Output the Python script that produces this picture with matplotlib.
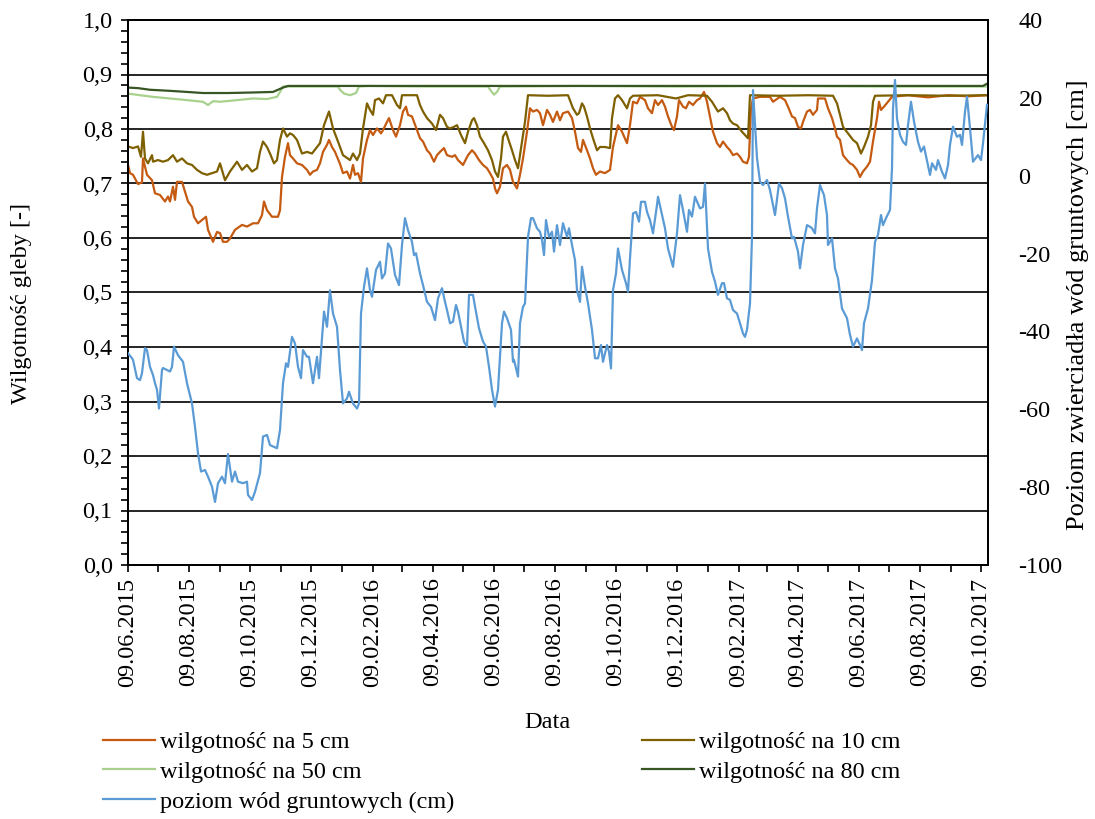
import numpy as np
import matplotlib
matplotlib.use("Agg")
import matplotlib.pyplot as plt
import matplotlib.dates as mdates
from matplotlib.ticker import MultipleLocator, FuncFormatter

# ---- data (days since 09.06.2015) ----
start_date = np.datetime64("2015-06-09")

m5_days = [0, 2, 5, 10, 14, 15, 19, 24, 27, 32, 37, 40, 42, 45, 47, 49, 54, 57, 60, 64, 66, 70, 74, 78, 80,
           85, 89, 92, 95, 99, 102, 107, 114, 119, 125, 130, 134, 136, 139, 144, 150, 152, 154, 157, 160,
           162, 165, 169, 174, 179, 182, 185, 189, 192, 195, 199, 201, 204, 207, 212, 215, 219, 222, 225,
           227, 230, 233, 235, 239, 242, 245, 249, 253, 255, 259, 261, 265, 268, 272, 275, 278, 280, 284,
           286, 289, 292, 295, 299, 302, 306, 309, 312, 316, 319, 324, 327, 330, 335, 340, 344, 347, 351,
           355, 359, 362, 365, 367, 369, 372, 375, 379, 382, 385, 389, 392, 395, 399, 402, 405, 409, 412,
           415, 419, 422, 425, 429, 432, 435, 440, 444, 447, 450, 453, 455, 459, 462, 465, 468, 472, 477,
           482, 485, 490, 494, 499, 502, 505, 509, 512, 517, 520, 524, 527, 530, 534, 537, 540, 544, 546,
           549, 551, 555, 558, 561, 565, 569, 572, 576, 579, 582, 585, 589, 592, 595, 599, 602, 605, 609,
           612, 615, 619, 621, 623, 625, 632, 642, 645, 652, 657, 660, 664, 667, 670, 673, 675, 679, 682,
           685, 689, 690, 697, 700, 704, 707, 709, 712, 715, 719, 722, 725, 729, 732, 735, 739, 742, 745,
           749, 751, 753, 756, 760, 764, 780, 800, 820, 840, 859]
m5_vals = [0.734, 0.719, 0.716, 0.699, 0.702, 0.746, 0.716, 0.706, 0.682, 0.679, 0.667, 0.676, 0.667, 0.694,
           0.670, 0.703, 0.703, 0.685, 0.667, 0.657, 0.639, 0.627, 0.633, 0.639, 0.615, 0.593, 0.611, 0.609,
           0.593, 0.593, 0.599, 0.615, 0.624, 0.621, 0.627, 0.627, 0.642, 0.667, 0.651, 0.639, 0.639, 0.651,
           0.712, 0.749, 0.774, 0.752, 0.746, 0.737, 0.734, 0.725, 0.716, 0.722, 0.725, 0.737, 0.758, 0.771,
           0.780, 0.767, 0.758, 0.736, 0.719, 0.722, 0.709, 0.734, 0.716, 0.719, 0.703, 0.746, 0.780, 0.798,
           0.789, 0.801, 0.792, 0.798, 0.813, 0.820, 0.798, 0.786, 0.807, 0.832, 0.841, 0.826, 0.823, 0.813,
           0.798, 0.783, 0.777, 0.761, 0.755, 0.740, 0.752, 0.758, 0.765, 0.752, 0.749, 0.752, 0.743, 0.734,
           0.752, 0.761, 0.755, 0.743, 0.734, 0.728, 0.719, 0.709, 0.691, 0.682, 0.694, 0.728, 0.734, 0.725,
           0.703, 0.691, 0.716, 0.746, 0.795, 0.838, 0.832, 0.835, 0.829, 0.807, 0.835, 0.826, 0.813, 0.832,
           0.816, 0.829, 0.832, 0.820, 0.795, 0.765, 0.758, 0.780, 0.761, 0.746, 0.728, 0.716, 0.722, 0.719,
           0.725, 0.767, 0.807, 0.795, 0.774, 0.807, 0.850, 0.847, 0.859, 0.853, 0.838, 0.829, 0.853, 0.844,
           0.853, 0.841, 0.823, 0.804, 0.798, 0.823, 0.853, 0.841, 0.838, 0.850, 0.844, 0.853, 0.856, 0.868,
           0.850, 0.823, 0.795, 0.774, 0.767, 0.777, 0.767, 0.761, 0.752, 0.755, 0.749, 0.740, 0.737, 0.749,
           0.838, 0.856, 0.859, 0.859, 0.850, 0.859, 0.853, 0.841, 0.823, 0.820, 0.804, 0.801, 0.813, 0.832,
           0.835, 0.826, 0.835, 0.856, 0.856, 0.838, 0.820, 0.801, 0.786, 0.780, 0.752, 0.743, 0.737, 0.734,
           0.725, 0.712, 0.722, 0.731, 0.740, 0.777, 0.820, 0.850, 0.835, 0.841, 0.850, 0.859, 0.862, 0.858,
           0.862, 0.860, 0.862]

m10_days = [0, 5, 10, 13, 15, 17, 20, 24, 25, 30, 35, 40, 45, 49, 54, 59, 64, 69, 74, 79, 84, 89, 92, 97,
            102, 109, 114, 119, 124, 129, 132, 135, 139, 142, 146, 149, 152, 155, 159, 162, 165, 169, 174,
            179, 184, 189, 192, 196, 201, 205, 210, 215, 222, 225, 229, 232, 235, 239, 242, 245, 247, 251,
            255, 258, 264, 269, 272, 274, 289, 292, 295, 299, 304, 308, 312, 315, 319, 322, 326, 329, 333,
            337, 340, 344, 346, 349, 352, 356, 360, 364, 367, 370, 373, 375, 378, 380, 384, 387, 390, 394,
            397, 400, 420, 440, 445, 449, 451, 454, 456, 459, 462, 465, 469, 472, 477, 482, 484, 487, 490,
            494, 499, 502, 505, 530, 548, 560, 579, 584, 587, 590, 595, 599, 602, 605, 609, 614, 617, 620,
            622, 650, 680, 705, 709, 712, 715, 720, 725, 729, 733, 736, 740, 743, 745, 747, 780, 820, 859]
m10_vals = [0.768, 0.765, 0.768, 0.749, 0.795, 0.746, 0.737, 0.752, 0.740, 0.743, 0.740, 0.743, 0.752, 0.740,
            0.746, 0.737, 0.734, 0.725, 0.719, 0.716, 0.719, 0.722, 0.737, 0.706, 0.722, 0.740, 0.725, 0.734,
            0.722, 0.728, 0.758, 0.777, 0.767, 0.755, 0.737, 0.743, 0.780, 0.801, 0.786, 0.792, 0.789, 0.780,
            0.755, 0.758, 0.755, 0.767, 0.774, 0.807, 0.832, 0.801, 0.777, 0.752, 0.743, 0.755, 0.743, 0.755,
            0.801, 0.847, 0.835, 0.826, 0.853, 0.856, 0.847, 0.862, 0.862, 0.844, 0.838, 0.862, 0.862, 0.844,
            0.832, 0.820, 0.810, 0.798, 0.826, 0.820, 0.804, 0.801, 0.804, 0.807, 0.789, 0.774, 0.795, 0.816,
            0.820, 0.807, 0.786, 0.774, 0.761, 0.743, 0.722, 0.712, 0.746, 0.786, 0.795, 0.783, 0.761, 0.743,
            0.728, 0.777, 0.813, 0.862, 0.861, 0.862, 0.838, 0.826, 0.829, 0.847, 0.841, 0.823, 0.801, 0.783,
            0.761, 0.767, 0.767, 0.765, 0.820, 0.856, 0.862, 0.853, 0.838, 0.856, 0.861, 0.862, 0.856, 0.862,
            0.861, 0.850, 0.841, 0.832, 0.838, 0.829, 0.816, 0.810, 0.807, 0.795, 0.789, 0.783, 0.862, 0.861,
            0.862, 0.861, 0.847, 0.826, 0.804, 0.792, 0.780, 0.774, 0.755, 0.767, 0.786, 0.807, 0.850, 0.861,
            0.862, 0.861, 0.862]

m50_days = [0, 12, 25, 42, 59, 75, 80, 85, 92, 109, 125, 139, 149, 152, 155, 172, 210, 212, 216, 222, 228,
            231, 240, 300, 360, 363, 366, 369, 372, 450, 550, 650, 750, 859]
m50_vals = [0.865, 0.862, 0.859, 0.856, 0.853, 0.850, 0.844, 0.851, 0.850, 0.853, 0.856, 0.855, 0.859,
            0.868, 0.878, 0.878, 0.878, 0.872, 0.865, 0.862, 0.866, 0.878, 0.879, 0.878, 0.878, 0.870,
            0.863, 0.868, 0.878, 0.879, 0.878, 0.879, 0.878, 0.878]

m80_days = [0, 10, 22, 42, 59, 75, 100, 125, 145, 150, 155, 160, 200, 300, 400, 500, 600, 700, 800, 855, 859]
m80_vals = [0.876, 0.875, 0.872, 0.870, 0.868, 0.866, 0.866, 0.867, 0.868, 0.872, 0.876, 0.879, 0.879,
            0.879, 0.879, 0.879, 0.879, 0.879, 0.879, 0.879, 0.883]

gw_days = [0, 4, 5, 9, 12, 14, 17, 19, 22, 25, 27, 29, 31, 34, 35, 39, 42, 44, 46, 50, 55, 59, 64, 67, 70,
           73, 77, 80, 84, 87, 90, 94, 97, 100, 104, 107, 110, 115, 119, 120, 124, 127, 132, 135, 139, 142,
           149, 152, 155, 158, 160, 164, 167, 170, 173, 175, 179, 181, 185, 189, 191, 194, 196, 199, 202,
           205, 209, 212, 215, 219, 221, 225, 229, 231, 233, 236, 239, 242, 244, 248, 252, 254, 257, 260,
           263, 267, 271, 274, 277, 280, 284, 286, 288, 292, 295, 299, 303, 307, 310, 314, 317, 319, 322,
           325, 328, 330, 333, 336, 339, 341, 345, 347, 351, 355, 358, 361, 364, 367, 370, 374, 376, 379,
           383, 385, 386, 390, 392, 395, 397, 400, 403, 405, 409, 412, 414, 416, 418, 421, 424, 426, 429,
           432, 435, 439, 441, 444, 447, 449, 452, 454, 457, 460, 464, 467, 470, 473, 475, 479, 481, 483,
           485, 488, 490, 494, 498, 500, 502, 505, 508, 511, 513, 517, 519, 522, 525, 529, 530, 534, 537,
           540, 545, 549, 552, 555, 559, 561, 564, 567, 572, 575, 577, 580, 584, 587, 590, 594, 596, 599,
           602, 605, 609, 612, 615, 617, 619, 622, 624, 625, 629, 632, 635, 639, 642, 647, 651, 654, 657,
           660, 664, 666, 670, 672, 675, 679, 682, 684, 687, 689, 692, 696, 699, 700, 704, 707, 710, 714,
           719, 722, 725, 729, 732, 734, 736, 740, 744, 747, 750, 753, 755, 758, 762, 764, 765, 767, 769,
           772, 775, 778, 780, 783, 786, 790, 793, 796, 800, 802, 804, 808, 810, 814, 817, 820, 822, 825,
           829, 832, 834, 837, 839, 842, 845, 850, 853, 855, 859]
gw_vals = [-45.6, -46.9, -47.3, -52.0, -52.5, -50.7, -44.3, -44.8, -49.1, -51.2, -53.3, -55.0, -59.8, -49.9,
           -49.4, -49.9, -50.3, -49.1, -43.9, -46.1, -47.8, -53.3, -58.5, -64.5, -71.3, -76.0, -75.6, -77.3,
           -79.9, -83.8, -79.0, -77.3, -79.0, -71.5, -78.6, -76.0, -78.6, -79.0, -78.6, -82.0, -83.3, -81.2,
           -76.4, -67.0, -66.6, -69.2, -70.0, -65.3, -53.3, -48.2, -49.1, -41.4, -43.1, -49.1, -52.0, -44.8,
           -46.5, -46.5, -53.3, -46.5, -52.0, -41.8, -34.9, -38.8, -29.4, -35.4, -38.8, -49.9, -58.5, -57.2,
           -55.5, -58.5, -59.8, -58.5, -35.4, -28.5, -23.8, -29.4, -31.1, -24.2, -22.1, -26.4, -25.1, -17.4,
           -18.7, -25.5, -28.1, -17.8, -10.9, -14.0, -17.0, -20.4, -19.9, -25.1, -28.1, -32.4, -33.7, -37.1,
           -31.5, -28.9, -32.4, -34.5, -37.9, -37.5, -33.2, -34.9, -38.8, -42.6, -43.9, -30.6, -30.6, -33.6,
           -39.2, -42.6, -43.9, -49.1, -55.0, -59.3, -55.0, -37.9, -34.9, -36.6, -39.6, -47.8, -47.3, -51.6,
           -37.9, -33.7, -32.8, -15.7, -10.9, -10.9, -13.5, -14.4, -16.5, -20.4, -11.4, -15.7, -14.4, -19.5,
           -12.7, -17.8, -12.2, -15.7, -13.5, -17.8, -21.7, -29.4, -32.4, -23.4, -28.5, -32.8, -39.6, -46.9,
           -46.9, -43.5, -47.8, -43.5, -45.2, -49.5, -29.4, -25.1, -18.7, -24.2, -27.6, -29.8, -21.2, -9.7,
           -9.3, -11.8, -6.7, -6.7, -9.3, -11.4, -14.8, -7.5, -5.4, -10.1, -13.5, -18.7, -23.4, -14.8, -5.0,
           -8.8, -14.4, -8.8, -10.5, -5.4, -8.4, -8.0, -2.0, -18.7, -24.7, -27.2, -30.6, -27.6, -27.6, -31.5,
           -31.9, -34.5, -35.4, -37.9, -40.5, -41.4, -39.6, -32.8, -15.7, 22.0, 4.5, -1.5, -2.4, -1.1, -3.7,
           -10.1, -2.0, -3.2, -5.8, -10.5, -16.1, -15.7, -19.5, -23.8, -17.8, -12.7, -13.1, -13.5, -14.8,
           -8.4, -2.4, -5.0, -10.1, -17.8, -16.1, -23.8, -26.4, -34.1, -36.6, -40.9, -43.9, -41.8, -43.5,
           -44.8, -37.9, -34.1, -26.8, -17.0, -15.2, -10.1, -12.7, -10.9, -8.8, 1.9, 17.3, 24.6, 14.7, 10.5,
           8.7, 7.9, 13.0, 19.0, 13.9, 8.7, 6.2, 7.5, 2.7, 0.2, 3.2, 1.5, 4.0, 1.0, -0.7, 2.7, 7.9, 12.6,
           10.0, 10.5, 7.9, 16.4, 20.3, 12.2, 3.6, 5.3, 4.0, 8.3, 18.2]

labels = ["wilgotność na 5 cm", "wilgotność na 10 cm", "wilgotność na 50 cm",
          "wilgotność na 80 cm", "poziom wód gruntowych (cm)"]
colors = ["#C55A11", "#7F6000", "#A9D18E", "#375623", "#5B9BD5"]


def to_dates(days):
    return start_date + np.array(days).astype("timedelta64[D]")


plt.rcParams["font.family"] = ["Liberation Serif", "DejaVu Serif"]
FS = 17.5

fig = plt.figure(figsize=(10.95, 8.19), dpi=100)
ax = fig.add_axes([128 / 1095, 1 - 565 / 819, (988 - 128) / 1095, (565 - 20) / 819])
ax2 = ax.twinx()

lw = 1.6
h5, = ax.plot(to_dates(m5_days), m5_vals, color=colors[0], lw=lw, zorder=3)
h10, = ax.plot(to_dates(m10_days), m10_vals, color=colors[1], lw=lw, zorder=3)
h50, = ax.plot(to_dates(m50_days), m50_vals, color=colors[2], lw=lw, zorder=3)
h80, = ax.plot(to_dates(m80_days), m80_vals, color=colors[3], lw=lw, zorder=3)
hgw, = ax2.plot(to_dates(gw_days), gw_vals, color=colors[4], lw=lw, zorder=3)

ax.set_ylim(0, 1.0)
ax2.set_ylim(-100, 40)
ax.set_xlim(start_date, start_date + np.timedelta64(860, "D"))

ax.yaxis.set_major_locator(MultipleLocator(0.1))
ax.yaxis.set_minor_locator(MultipleLocator(0.02))
ax.yaxis.set_major_formatter(FuncFormatter(lambda v, p: f"{v:.1f}".replace(".", ",")))
ax2.yaxis.set_major_locator(MultipleLocator(20))
ax2.yaxis.set_major_formatter(FuncFormatter(lambda v, p: f"{v:.0f}"))

ax.xaxis.set_major_locator(mdates.MonthLocator(bymonth=[2, 4, 6, 8, 10, 12], bymonthday=9))
ax.xaxis.set_minor_locator(mdates.MonthLocator(bymonthday=9))
ax.xaxis.set_major_formatter(mdates.DateFormatter("%d.%m.%Y"))

ax.grid(axis="y", which="major", color="black", lw=1.2, zorder=1)
ax.set_axisbelow(True)

ax.tick_params(axis="y", which="both", direction="out", length=5, width=1.2, labelsize=FS, pad=6)
ax.tick_params(axis="x", which="both", direction="out", length=5, width=1.2, labelsize=FS, pad=4,
               labelrotation=90)
ax2.tick_params(axis="y", which="both", length=0, labelsize=FS, pad=22)
for a in (ax, ax2):
    for s in a.spines.values():
        s.set_color("black")
        s.set_linewidth(1.4)

fig.text(22 / 1095, 1 - 303 / 819, "Wilgotność gleby [-]", rotation=90, ha="center", va="center",
         fontsize=FS)
fig.text(1078 / 1095, 1 - 305 / 819, "Poziom zwierciadła wód gruntowych [cm]", rotation=90,
         ha="center", va="center", fontsize=FS + 1.5)
fig.text(547 / 1095, 1 - 723 / 819, "Data", ha="center", va="center", fontsize=FS)

fig.legend([h5, h50, hgw, h10, h80], [labels[0], labels[2], labels[4], labels[1], labels[3]],
           loc="upper left", bbox_to_anchor=(103 / 1095, 1 - 731 / 819), ncol=2, frameon=False,
           fontsize=FS, handlelength=2.15, handletextpad=0.2, columnspacing=7.7, labelspacing=0.32,
           borderpad=0, borderaxespad=0)

fig.savefig("out.png", dpi=100)
